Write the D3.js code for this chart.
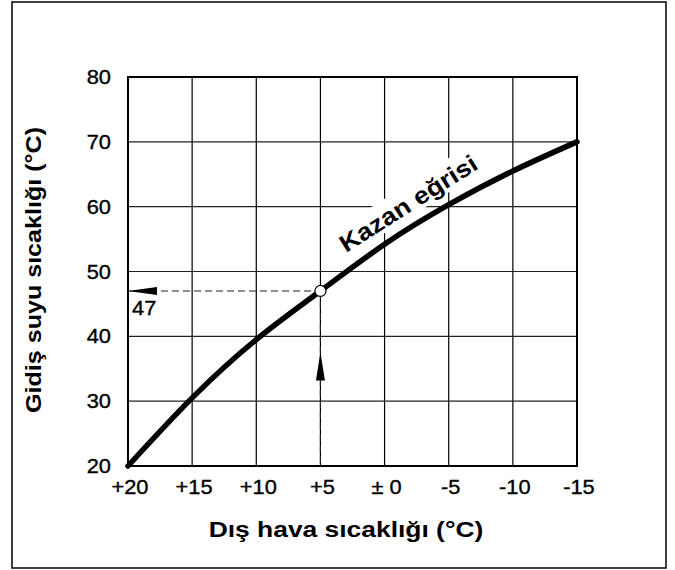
<!DOCTYPE html>
<html>
<head>
<meta charset="utf-8">
<script src="https://cdn.jsdelivr.net/npm/d3@7"></script>
<style>
  body { margin: 0; background: #fff; }
  svg text { font-family: "Liberation Sans", Arial, Helvetica, sans-serif; fill: #000; }
  svg text.plain { stroke: #000; stroke-width: 0.35; }
</style>
</head>
<body>
<div id="chart"></div>
<script>
// outdoor temperature (x) and flow temperature (y) of the boiler curve
const outdoorTemps = [20, 15, 10, 5, 0, -5, -10, -15];
const outdoorLabels = ['+20', '+15', '+10', '+5', '\u00b1 0', '-5', '-10', '-15'];
const flowTemps = [20, 30.5, 39.5, 47, 54.2, 60.3, 65.5, 70];
const flowTicks = [20, 30, 40, 50, 60, 70, 80];

// the reading shown on the chart
const readingOutdoor = 5;
const readingFlow = 47;
const readingLabel = '47';

const curveLabel = 'Kazan e\u011frisi';
const xTitle = 'D\u0131\u015f hava s\u0131cakl\u0131\u011f\u0131 (\u00b0C)';
const yTitle = 'Gidi\u015f suyu s\u0131cakl\u0131\u011f\u0131 (\u00b0C)';

const width = 675, height = 570;
const plot = { left: 128, right: 577, top: 77, bottom: 466 };

const svg = d3.select('#chart').append('svg')
    .attr('width', width)
    .attr('height', height);

// the fonts in the picture are wider than Arial, so widen text along its run
function widen(sel, k) {
    sel.each(function () {
        const w = this.getComputedTextLength();
        d3.select(this)
            .attr('textLength', w * k)
            .attr('lengthAdjust', 'spacingAndGlyphs');
    });
    return sel;
}

// outer frame
svg.append('rect')
    .attr('x', 12).attr('y', 2)
    .attr('width', 654).attr('height', 566)
    .attr('fill', 'none')
    .attr('stroke', '#000')
    .attr('stroke-width', 1.5);

const x = d3.scaleLinear()
    .domain([d3.max(outdoorTemps), d3.min(outdoorTemps)])
    .range([plot.left, plot.right]);

const y = d3.scaleLinear()
    .domain([d3.min(flowTicks), d3.max(flowTicks)])
    .range([plot.bottom, plot.top]);

// grid
svg.append('g')
    .selectAll('line')
    .data(outdoorTemps)
    .join('line')
    .attr('x1', (d) => x(d)).attr('x2', (d) => x(d))
    .attr('y1', plot.top).attr('y2', plot.bottom)
    .attr('stroke', '#000')
    .attr('stroke-width', 1.2);

svg.append('g')
    .selectAll('line')
    .data(flowTicks)
    .join('line')
    .attr('x1', plot.left).attr('x2', plot.right)
    .attr('y1', (d) => y(d)).attr('y2', (d) => y(d))
    .attr('stroke', '#222')
    .attr('stroke-width', 1.2);

svg.append('rect')
    .attr('x', plot.left).attr('y', plot.top)
    .attr('width', plot.right - plot.left)
    .attr('height', plot.bottom - plot.top)
    .attr('fill', 'none')
    .attr('stroke', '#000')
    .attr('stroke-width', 2);

// tick labels
const yLabels = svg.append('g')
    .selectAll('text')
    .data(flowTicks)
    .join('text')
    .attr('class', 'plain')
    .attr('x', plot.left - 17)
    .attr('y', (d) => y(d))
    .attr('dy', '0.36em')
    .attr('text-anchor', 'end')
    .attr('font-size', 19.5)
    .text((d) => d);
widen(yLabels, 1.12);

const xLabels = svg.append('g')
    .selectAll('text')
    .data(outdoorTemps)
    .join('text')
    .attr('class', 'plain')
    .attr('x', (d) => x(d) + 2)
    .attr('y', plot.bottom + 28)
    .attr('text-anchor', 'middle')
    .attr('font-size', 19.5)
    .text((d, i) => outdoorLabels[i]);
widen(xLabels, 1.12);

// axis titles
widen(svg.append('text')
    .attr('x', 346)
    .attr('y', 537)
    .attr('text-anchor', 'middle')
    .attr('font-size', 22)
    .attr('font-weight', 'bold')
    .text(xTitle), 1.2);

widen(svg.append('text')
    .attr('transform', 'translate(41,270) rotate(-90)')
    .attr('text-anchor', 'middle')
    .attr('font-size', 22)
    .attr('font-weight', 'bold')
    .text(yTitle), 1.14);

// curve label with a white patch behind it
const labelGroup = svg.append('g')
    .attr('transform', 'translate(346,253) rotate(-32.5)');
const labelPatch = labelGroup.append('rect').attr('fill', '#fff');
const labelText = labelGroup.append('text')
    .attr('font-size', 24)
    .attr('font-weight', 'bold')
    .text(curveLabel);
widen(labelText, 1.12);
const lb = labelText.node().getBBox();
labelPatch
    .attr('x', lb.x - 3).attr('y', lb.y - 3)
    .attr('width', +labelText.attr('textLength') + 6)
    .attr('height', lb.height + 2);

// reading guides
const rx = x(readingOutdoor), ry = y(readingFlow);

svg.append('line')
    .attr('x1', plot.left).attr('x2', rx)
    .attr('y1', ry).attr('y2', ry)
    .attr('stroke', '#222')
    .attr('stroke-width', 1.1)
    .attr('stroke-dasharray', '7,4');

svg.append('line')
    .attr('x1', rx).attr('x2', rx)
    .attr('y1', ry).attr('y2', plot.bottom)
    .attr('stroke', '#222')
    .attr('stroke-width', 1.1)
    .attr('stroke-dasharray', '7,4');

// the boiler curve
const line = d3.line()
    .curve(d3.curveNatural)
    .x((d, i) => x(outdoorTemps[i]))
    .y((d) => y(d));

svg.append('path')
    .datum(flowTemps)
    .attr('d', line)
    .attr('fill', 'none')
    .attr('stroke', '#000')
    .attr('stroke-width', 5.5)
    .attr('stroke-linecap', 'round');

svg.append('circle')
    .attr('cx', rx).attr('cy', ry)
    .attr('r', 5.5)
    .attr('fill', '#fff')
    .attr('stroke', '#000')
    .attr('stroke-width', 1.2);

// arrows
svg.append('path')
    .attr('d', `M${plot.left},${ry} L${plot.left + 29},${ry - 4} L${plot.left + 29},${ry + 4} Z`)
    .attr('fill', '#000');

const arrowTip = y(37.5);
svg.append('path')
    .attr('d', `M${rx},${arrowTip} L${rx - 4.5},${arrowTip + 28} L${rx + 4.5},${arrowTip + 28} Z`)
    .attr('fill', '#000');

widen(svg.append('text')
    .attr('class', 'plain')
    .attr('x', plot.left + 4)
    .attr('y', ry + 24)
    .attr('font-size', 19.5)
    .text(readingLabel), 1.12);
</script>
</body>
</html>
